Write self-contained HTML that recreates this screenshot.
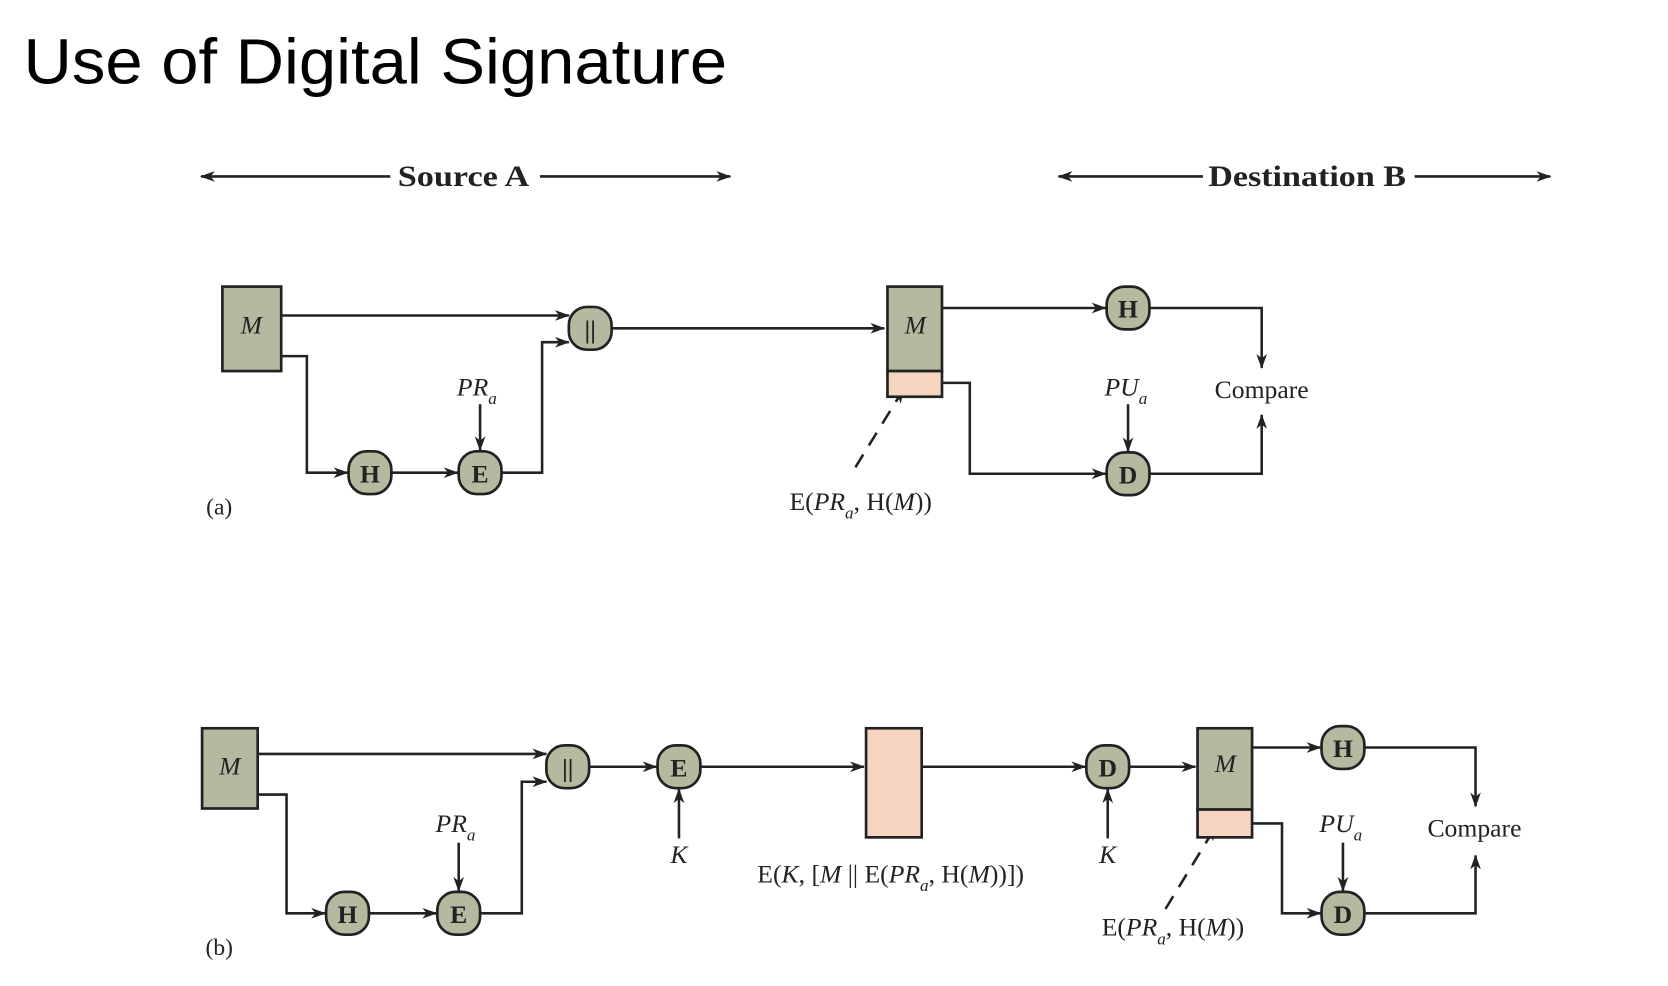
<!DOCTYPE html>
<html><head><meta charset="utf-8"><style>
html,body{margin:0;padding:0;background:#fff;width:1668px;height:986px;overflow:hidden}
svg{display:block}
.t{font-family:"Liberation Serif",serif;fill:#222}
.i{font-style:italic}
</style></head><body>
<svg width="1668" height="986" viewBox="0 0 1560 922" preserveAspectRatio="none" xmlns="http://www.w3.org/2000/svg">
<defs>
<marker id="a" markerWidth="14" markerHeight="10" refX="13" refY="5" orient="auto" markerUnits="userSpaceOnUse">
<path d="M0,0 L14,5 L0,10 L4,5 z" fill="#222"/></marker>
</defs>
<text x="22" y="78" font-family="Liberation Sans, sans-serif" font-size="60" fill="#000" textLength="658" lengthAdjust="spacingAndGlyphs">Use of Digital Signature</text>

<g stroke="#222" stroke-width="2.4" fill="none">
<line x1="365" y1="165" x2="188" y2="165" marker-end="url(#a)"/>
<line x1="505" y1="165" x2="683" y2="165" marker-end="url(#a)"/>
<line x1="1125" y1="165" x2="990" y2="165" marker-end="url(#a)"/>
<line x1="1323" y1="165" x2="1450" y2="165" marker-end="url(#a)"/>
</g>
<text class="t" x="372" y="174" font-size="28" font-weight="bold" textLength="123" lengthAdjust="spacingAndGlyphs">Source A</text>
<text class="t" x="1130" y="174" font-size="28" font-weight="bold" textLength="185" lengthAdjust="spacingAndGlyphs">Destination B</text>

<!-- (a) -->
<g stroke="#222" stroke-width="2.4" fill="none">
<polyline points="263,295 532,295" marker-end="url(#a)"/>
<polyline points="263,333 287,333 287,442 325,442" marker-end="url(#a)"/>
<polyline points="366,442 428,442" marker-end="url(#a)"/>
<polyline points="449,378 449,421" marker-end="url(#a)"/>
<polyline points="469,442 507,442 507,320 532,320" marker-end="url(#a)"/>
<polyline points="572,307 827,307" marker-end="url(#a)"/>
<polyline points="881,288 1034,288" marker-end="url(#a)"/>
<polyline points="1075,288 1180,288 1180,344" marker-end="url(#a)"/>
<polyline points="881,358 907,358 907,443 1034,443" marker-end="url(#a)"/>
<polyline points="1055,378 1055,422" marker-end="url(#a)"/>
<polyline points="1075,443 1180,443 1180,388" marker-end="url(#a)"/>
<line x1="800" y1="437" x2="845" y2="364" stroke-dasharray="14,10" marker-end="url(#a)"/>
</g>
<g stroke="#222" stroke-width="2.5">
<rect x="208" y="268" width="55" height="79" fill="#b6b8a0"/>
<rect x="830" y="268" width="51" height="79" fill="#b6b8a0"/>
<rect x="830" y="347" width="51" height="24" fill="#f6d6c2"/>
<rect x="532" y="287" width="40" height="40" rx="17" fill="#b6b8a0"/>
<rect x="326" y="422" width="40" height="40" rx="17" fill="#b6b8a0"/>
<rect x="429" y="422" width="40" height="40" rx="17" fill="#b6b8a0"/>
<rect x="1035" y="268" width="40" height="40" rx="17" fill="#b6b8a0"/>
<rect x="1035" y="423" width="40" height="40" rx="17" fill="#b6b8a0"/>
</g>
<g class="t" font-size="24" text-anchor="middle">
<text x="235" y="312" class="i">M</text>
<text x="856" y="312" class="i">M</text>
<text x="552" y="316" font-weight="bold">||</text>
<text x="346" y="451" font-weight="bold">H</text>
<text x="449" y="451" font-weight="bold">E</text>
<text x="1055" y="297" font-weight="bold">H</text>
<text x="1055" y="452" font-weight="bold">D</text>
<text x="446" y="370" class="i">PR<tspan font-size="16" dy="8">a</tspan></text>
<text x="1053" y="370" class="i">PU<tspan font-size="16" dy="8">a</tspan></text>
<text x="1180" y="372">Compare</text>
<text x="805" y="477">E(<tspan class="i">PR</tspan><tspan font-size="16" dy="8" class="i">a</tspan><tspan dy="-8">, H(</tspan><tspan class="i">M</tspan>))</text>
<text x="205" y="481" font-size="22">(a)</text>
</g>

<!-- (b) -->
<g stroke="#222" stroke-width="2.4" fill="none">
<polyline points="241,705 511,705" marker-end="url(#a)"/>
<polyline points="241,743 268,743 268,854 304,854" marker-end="url(#a)"/>
<polyline points="345,854 408,854" marker-end="url(#a)"/>
<polyline points="429,788 429,833" marker-end="url(#a)"/>
<polyline points="449,854 488,854 488,731 511,731" marker-end="url(#a)"/>
<polyline points="551,717 614,717" marker-end="url(#a)"/>
<polyline points="635,784 635,738" marker-end="url(#a)"/>
<polyline points="655,717 808,717" marker-end="url(#a)"/>
<polyline points="862,717 1015,717" marker-end="url(#a)"/>
<polyline points="1036,784 1036,738" marker-end="url(#a)"/>
<polyline points="1056,717 1118,717" marker-end="url(#a)"/>
<polyline points="1171,699 1235,699" marker-end="url(#a)"/>
<polyline points="1276,699 1380,699 1380,754" marker-end="url(#a)"/>
<polyline points="1171,770 1199,770 1199,854 1235,854" marker-end="url(#a)"/>
<polyline points="1256,788 1256,833" marker-end="url(#a)"/>
<polyline points="1276,854 1380,854 1380,800" marker-end="url(#a)"/>
<line x1="1090" y1="850" x2="1137" y2="773" stroke-dasharray="14,10" marker-end="url(#a)"/>
</g>
<g stroke="#222" stroke-width="2.5">
<rect x="189" y="681" width="52" height="75" fill="#b6b8a0"/>
<rect x="810" y="681" width="52" height="102" fill="#f6d6c2"/>
<rect x="1120" y="681" width="51" height="76" fill="#b6b8a0"/>
<rect x="1120" y="757" width="51" height="26" fill="#f6d6c2"/>
<rect x="511" y="697" width="40" height="40" rx="17" fill="#b6b8a0"/>
<rect x="615" y="697" width="40" height="40" rx="17" fill="#b6b8a0"/>
<rect x="1016" y="697" width="40" height="40" rx="17" fill="#b6b8a0"/>
<rect x="305" y="834" width="40" height="40" rx="17" fill="#b6b8a0"/>
<rect x="409" y="834" width="40" height="40" rx="17" fill="#b6b8a0"/>
<rect x="1236" y="679" width="40" height="40" rx="17" fill="#b6b8a0"/>
<rect x="1236" y="834" width="40" height="40" rx="17" fill="#b6b8a0"/>
</g>
<g class="t" font-size="24" text-anchor="middle">
<text x="215" y="724" class="i">M</text>
<text x="1146" y="722" class="i">M</text>
<text x="531" y="726" font-weight="bold">||</text>
<text x="635" y="726" font-weight="bold">E</text>
<text x="1036" y="726" font-weight="bold">D</text>
<text x="325" y="863" font-weight="bold">H</text>
<text x="429" y="863" font-weight="bold">E</text>
<text x="1256" y="708" font-weight="bold">H</text>
<text x="1256" y="863" font-weight="bold">D</text>
<text x="426" y="778" class="i">PR<tspan font-size="16" dy="8">a</tspan></text>
<text x="1254" y="778" class="i">PU<tspan font-size="16" dy="8">a</tspan></text>
<text x="635" y="807" class="i">K</text>
<text x="1036" y="807" class="i">K</text>
<text x="1379" y="782">Compare</text>
<text x="833" y="825">E(<tspan class="i">K</tspan>, [<tspan class="i">M</tspan> || E(<tspan class="i">PR</tspan><tspan font-size="16" dy="8" class="i">a</tspan><tspan dy="-8">, H(</tspan><tspan class="i">M</tspan>))])</text>
<text x="1097" y="875">E(<tspan class="i">PR</tspan><tspan font-size="16" dy="8" class="i">a</tspan><tspan dy="-8">, H(</tspan><tspan class="i">M</tspan>))</text>
<text x="205" y="893" font-size="22">(b)</text>
</g>
</svg>
</body></html>
